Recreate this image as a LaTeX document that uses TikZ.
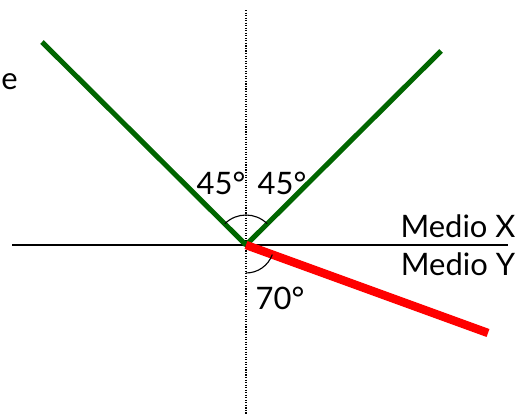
\documentclass[tikz,border=0pt]{standalone}
\usepackage{fontspec}
\setmainfont{Lato}
\usepackage{xcolor}
\usetikzlibrary{
  positioning,
  calc
}
\definecolor{raygreen}{RGB}{0,102,0}
\definecolor{rayred}{RGB}{255,0,0}
\tikzset{
  surfline/.style={draw=black,line width=0.8pt},
  normalline/.style={draw=black,densely dotted,line width=0.8pt},
  greenray/.style={draw=raygreen,line width=3.6pt},
  redray/.style={draw=rayred,line width=6pt},
  anglearc/.style={draw=black,line width=0.8pt},
  angtext/.style={font=\fontsize{22}{26}\selectfont,inner sep=0pt},
}

\begin{document}
\begin{tikzpicture}[x=0.025cm,y=-0.025cm]
  \useasboundingbox (0,0) rectangle (523,414);

  % Interface and normal
  \coordinate (O) at (246,245);
  \coordinate (surfL) at (12,245);
  \coordinate (surfR) at (508,245);
  \coordinate (normT) at (246,10);
  \coordinate (normB) at (246,414);
  \draw[surfline] (surfL) -- (surfR);
  \draw[normalline] (normT) -- (normB);

  % Rays
  \coordinate (incA) at (42,42);
  \coordinate (refl) at (441,51);
  \coordinate (refr) at (488,333);
  \draw[greenray] (incA) -- (O);
  \draw[greenray] (O) -- (refl);
  \draw[redray] (O) -- (refr);

  % Angles
  \draw[anglearc] ($(O)+(45:30 and -30)$) arc[start angle=-45,end angle=-135,radius=30];
  \draw[anglearc] ($(O)+(0,28)$) arc[start angle=90,end angle=20,radius=28];
  \node[angtext] (angL) at (221,183) {45°};
  \node[angtext] (angR) at (282,183) {45°};
  \node[angtext] (angT) at (280,298) {70°};

  % Media
  \node[angtext] (medX) at (458,226) {Medio X};
  \node[angtext] (medY) at (458,264) {Medio Y};
  \node[angtext,anchor=west] (cut) at (1,82) {e};
\end{tikzpicture}
\end{document}
